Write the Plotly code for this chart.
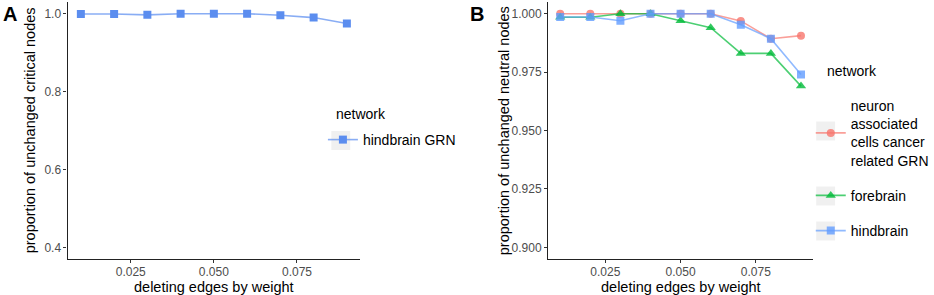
import plotly.graph_objects as go

W, H = 934, 295

x_vals = [0.01, 0.02, 0.03, 0.04, 0.05, 0.06, 0.07, 0.08, 0.09]

# Panel A: critical nodes
a_hindbrain_grn = [0.999, 0.999, 0.997, 1.000, 1.000, 1.000, 0.996, 0.990, 0.975]

# Panel B: neutral nodes
b_neuron = [1.000, 1.000, 1.000, 1.000, 1.000, 1.000, 0.9969, 0.9893, 0.9906]
b_forebrain = [0.9985, 0.9985, 1.000, 1.000, 0.9970, 0.9940, 0.9830, 0.9830, 0.9690]
b_hindbrain = [0.9986, 0.9986, 0.9970, 1.000, 1.000, 1.000, 0.9953, 0.9893, 0.9740]

a_yticks = [0.4, 0.6, 0.8, 1.0]
b_yticks = [0.900, 0.925, 0.950, 0.975, 1.000]
x_ticks = [0.025, 0.050, 0.075]

FONT = "Liberation Sans, Arial, sans-serif"
TICKC = "#4d4d4d"

fig = go.Figure()

fig.add_trace(go.Scatter(
    x=x_vals, y=a_hindbrain_grn, name="hindbrain GRN", mode="lines+markers",
    line=dict(color="rgba(97,145,240,0.75)", width=1.6),
    marker=dict(symbol="square", size=8, color="#5b8def"),
    xaxis="x", yaxis="y", legend="legend", legendgroup="a1",
))

series_b = [
    ("neuron<br>associated<br>cells cancer<br>related GRN", b_neuron, "248,118,109", "circle", 8),
    ("forebrain", b_forebrain, "0,186,56", "triangle-up", 9),
    ("hindbrain", b_hindbrain, "97,156,255", "square", 8),
]
for i, (name, vals, rgb, sym, sz) in enumerate(series_b):
    fig.add_trace(go.Scatter(
        x=x_vals, y=vals, name=name, mode="lines+markers",
        line=dict(color=f"rgba({rgb},0.7)", width=1.6),
        marker=dict(symbol=sym, size=sz, color=f"rgba({rgb},0.8)"),
        xaxis="x2", yaxis="y2", legend="legend2", legendgroup=f"b{i}",
    ))

axis_common = dict(
    showgrid=False, zeroline=False, showline=True, linecolor="#222222", linewidth=1.2,
    ticks="outside", ticklen=3, tickcolor="#333333", tickwidth=1,
    tickfont=dict(family=FONT, size=12, color=TICKC), mirror=False,
)

ydom = [(H - 259) / H, (H - 2) / H]

fig.update_layout(
    width=W, height=H, margin=dict(l=0, r=0, t=0, b=0),
    paper_bgcolor="white", plot_bgcolor="white",
    font=dict(family=FONT, size=14, color="black"),
    xaxis=dict(domain=[68 / W, 362.5 / W], range=[0.006, 0.094], tickvals=x_ticks,
               ticktext=["0.025", "0.050", "0.075"], anchor="y", ticklabelstandoff=-2,
               **axis_common),
    yaxis=dict(domain=ydom, range=[0.37, 1.03], tickvals=a_yticks,
               ticktext=["0.4", "0.6", "0.8", "1.0"], anchor="x", **axis_common),
    xaxis2=dict(domain=[551.7 / W, 818.3 / W], range=[0.006, 0.094], tickvals=x_ticks,
                ticktext=["0.025", "0.050", "0.075"], anchor="y2", ticklabelstandoff=-2,
                **axis_common),
    yaxis2=dict(domain=ydom, range=[0.895, 1.005], tickvals=b_yticks,
                ticktext=[f"{v:.3f}" for v in b_yticks], anchor="x2", **axis_common),
    legend=dict(x=325 / W, y=1 - 140 / H, xanchor="left", yanchor="middle",
                bgcolor="rgba(0,0,0,0)", font=dict(family=FONT, size=14),
                traceorder="grouped", tracegroupgap=8, itemwidth=30),
    legend2=dict(x=816 / W, y=1 - 90 / H, xanchor="left", yanchor="top",
                 bgcolor="rgba(0,0,0,0)", font=dict(family=FONT, size=14),
                 traceorder="grouped", tracegroupgap=14, itemwidth=30),
    showlegend=True,
)

# light grey legend-key backgrounds (ggplot style)
key_boxes = [(333.5, 131), (821.5, 121.5), (821.5, 186.5), (821.5, 221.5)]
shapes = []
for kx, ky in key_boxes:
    shapes.append(dict(type="rect", xref="paper", yref="paper", layer="below",
                       x0=kx / W, x1=(kx + 19) / W, y0=1 - (ky + 19) / H, y1=1 - ky / H,
                       fillcolor="#f0f0f0", line=dict(width=0)))
fig.update_layout(shapes=shapes)

annotations = [
    dict(text="<b>A</b>", x=1 / W, y=1 - 1 / H, xanchor="left", yanchor="top",
         font=dict(size=20)),
    dict(text="<b>B</b>", x=471 / W, y=1 - 1 / H, xanchor="left", yanchor="top",
         font=dict(size=20)),
    dict(text="proportion of unchanged critical nodes", x=30 / W, y=(ydom[0] + ydom[1]) / 2,
         textangle=-90, xanchor="center", yanchor="middle", font=dict(size=14.5)),
    dict(text="proportion of unchanged neutral nodes", x=507 / W, y=(ydom[0] + ydom[1]) / 2,
         textangle=-90, xanchor="center", yanchor="middle", font=dict(size=14.5)),
    dict(text="deleting edges by weight", x=(68 + 362.5) / 2 / W, y=1 - 286.5 / H,
         xanchor="center", yanchor="middle", font=dict(size=14.5)),
    dict(text="deleting edges by weight", x=(551.7 + 818.3) / 2 / W, y=1 - 286.5 / H,
         xanchor="center", yanchor="middle", font=dict(size=14.5)),
    dict(text="network", x=336 / W, y=1 - 114 / H, xanchor="left", yanchor="middle",
         font=dict(size=14)),
    dict(text="network", x=830 / W, y=1 - 71 / H, xanchor="left", yanchor="middle",
         font=dict(size=14)),
]
for a in annotations:
    a.update(xref="paper", yref="paper", showarrow=False)
    a["font"] = dict(family=FONT, color="black", **a["font"])
fig.update_layout(annotations=annotations)

fig.write_html("out.html", config={"displayModeBar": False},
               post_script="document.body.style.margin='0';document.body.style.padding='0';")
